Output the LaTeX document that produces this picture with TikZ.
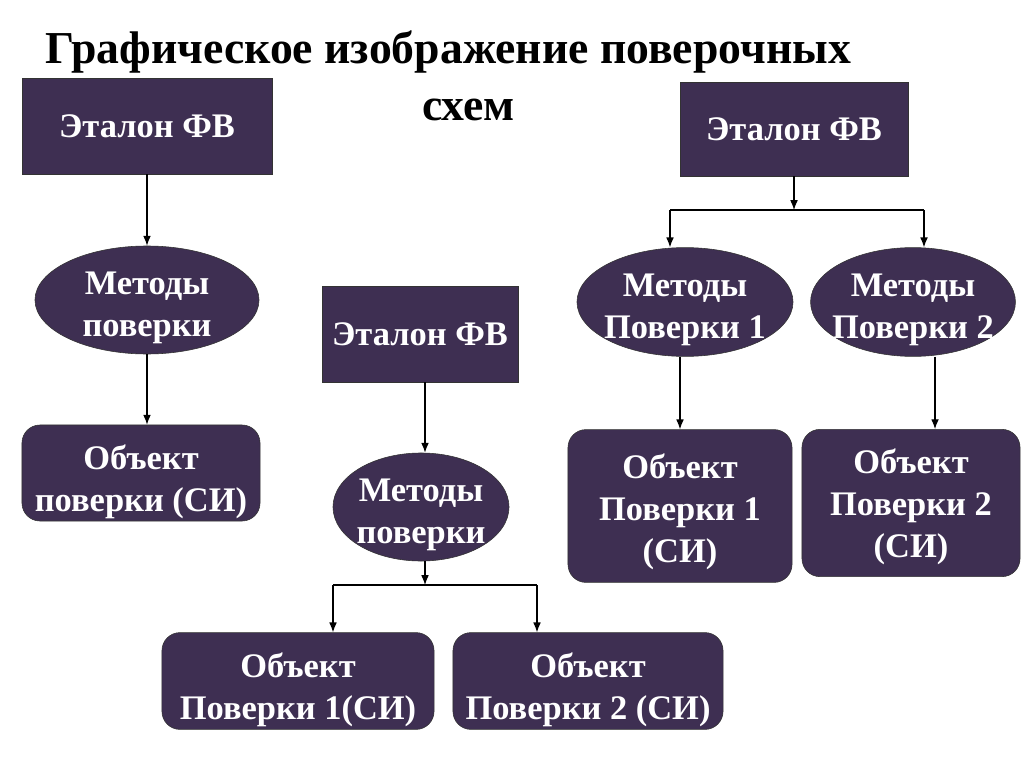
\documentclass[tikz,border=0pt]{standalone}
\usepackage{fontspec}
\setmainfont{Liberation Serif}
\usepackage{tikz}
\usetikzlibrary{arrows,arrows.meta,shapes}
\definecolor{plum}{HTML}{3E2F52}
\tikzstyle{block} = [rectangle, draw=black!80, fill=plum, text=white, font=\fontsize{24.5}{30}\selectfont\bfseries, align=center]
\tikzstyle{method} = [ellipse, draw=black!80, fill=plum, text=white, font=\fontsize{24.5}{30}\selectfont\bfseries, align=center, inner sep=-6pt, text height=52pt, text depth=0pt]
\tikzstyle{object} = [rectangle, draw=black!80, fill=plum, text=white, font=\fontsize{24.5}{30}\selectfont\bfseries, align=center, rounded corners=0.45cm, text height=55pt, text depth=0pt]
\tikzstyle{line} = [draw, line width=0.8pt, -{Latex[length=7pt,width=5.5pt]}]

\begin{document}
\begin{tikzpicture}[x=0.025cm, y=-0.025cm]
				\useasboundingbox (0,0) rectangle (1024,767);
				% Title
				\node [font=\fontsize{32.5}{41}\selectfont\bfseries, align=center] (title) at (448,76) {Графическое изображение поверочных\\\hspace*{0.9em}схем};
				% Place nodes: left scheme
				\node [block, minimum width=6.25cm, minimum height=2.4cm] (et1) at (147,126) {Эталон ФВ};
				\node [method, minimum width=5.6cm, minimum height=2.7cm] (met1) at (147,300) {Методы\\поверки};
				\node [object, minimum width=5.95cm, minimum height=2.4cm] (obj1) at (141,473) {Объект\\поверки (СИ)};
				% middle scheme
				\node [block, minimum width=4.9cm, minimum height=2.4cm] (et2) at (420,334) {Эталон ФВ};
				\node [method, minimum width=4.4cm, minimum height=2.7cm] (met2) at (421,507) {Методы\\поверки};
				\node [object, minimum width=6.8cm, minimum height=2.42cm] (obj21) at (298,681) {Объект\\Поверки 1(СИ)};
				\node [object, minimum width=6.75cm, minimum height=2.42cm] (obj22) at (588,681) {Объект\\Поверки 2 (СИ)};
				% right scheme
				\node [block, minimum width=5.7cm, minimum height=2.35cm] (et3) at (794,129) {Эталон ФВ};
				\node [method, minimum width=5.4cm, minimum height=2.72cm] (met31) at (685,302) {Методы\\Поверки 1};
				\node [method, minimum width=4.85cm, minimum height=2.72cm] (met32) at (913,302) {Методы\\Поверки 2};
				\node [object, text height=81pt, minimum width=5.6cm, minimum height=3.82cm] (obj31) at (680,506) {Объект\\Поверки 1\\(СИ)};
				\node [object, text height=78pt, minimum width=5.45cm, minimum height=3.68cm] (obj32) at (911,503) {Объект\\Поверки 2\\(СИ)};
				% Branch points
				\coordinate (split2) at (425,585);
				\coordinate (b21) at (333,585);
				\coordinate (b22) at (537,585);
				\coordinate (split3) at (794,210);
				\coordinate (b31) at (670,210);
				\coordinate (b32) at (924,210);
				\coordinate (a32) at (935,0);
				% Draw edges
				\path [line] (et1) -- (met1);
				\path [line] (met1) -- (obj1.north -| met1);
				\path [line] (et2.south -| split2) -- (met2.north -| split2);
				\path [line] (met2.south -| split2) -- (split2);
				\draw [line width=0.8pt] (b21) -- (b22);
				\path [line] (b21) -- (b21 |- obj21.north);
				\path [line] (b22) -- (b22 |- obj22.north);
				\path [line] (et3) -- (split3);
				\draw [line width=0.8pt] (b31) -- (b32);
				\path [line] (b31) -- (b31 |- met31.north);
				\path [line] (b32) -- (b32 |- met32.north);
				\path [line] (met31.south -| obj31) -- (obj31);
				\path [line] (met32.south -| a32) -- (obj32.north -| a32);
			\end{tikzpicture}
\end{document}
